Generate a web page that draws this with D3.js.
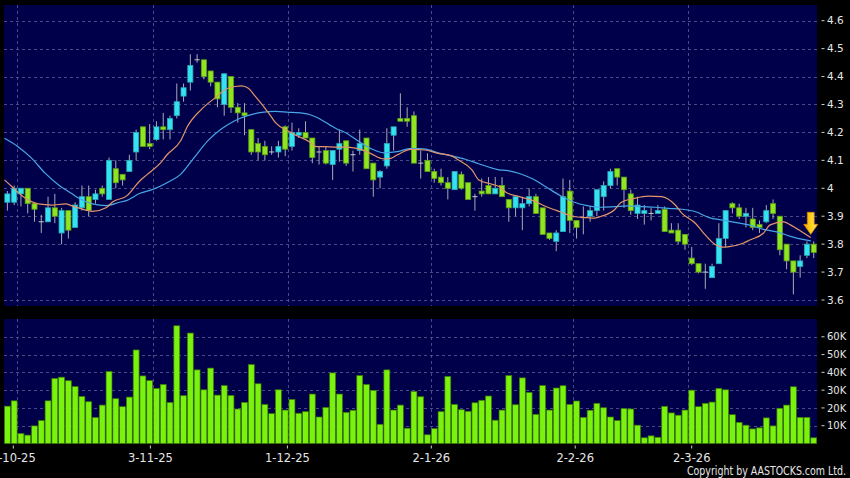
<!DOCTYPE html>
<html><head><meta charset="utf-8">
<script src="https://cdn.jsdelivr.net/npm/d3@7"></script>
<style>html,body{margin:0;padding:0;background:#000;}svg{display:block}</style>
</head><body><svg id="c" width="850" height="478"></svg>
<script>
// ---- data ----
const openP  = [3.95,3.95,3.98,4.00,3.945,3.88,3.88,3.93,3.84,3.92,3.86,3.93,3.97,3.96,4.00,3.96,4.07,4.05,4.06,4.13,
4.22,4.16,4.175,4.22,4.21,4.26,4.33,4.38,4.46,4.46,4.42,4.38,4.30,4.40,4.29,4.27,4.21,4.16,4.15,4.13,
4.13,4.22,4.15,4.19,4.20,4.18,4.13,4.135,4.085,4.14,4.17,4.12,4.135,4.18,4.09,4.04,4.08,4.19,4.25,4.25,
4.26,4.09,4.10,4.06,4.04,4.02,3.995,4.05,4.02,3.97,3.99,4.01,3.98,4.01,3.96,3.93,3.93,3.945,3.97,3.93,
3.84,3.81,3.845,3.99,3.885,3.895,3.90,3.92,3.97,4.01,4.07,4.04,3.98,3.91,3.91,3.91,3.91,3.925,3.85,3.85,
3.835,3.75,3.73,3.70,3.68,3.73,3.82,3.945,3.93,3.90,3.89,3.87,3.88,3.945,3.90,3.80,3.74,3.72,3.76,3.80];
const highP  = [3.99,4.01,4.00,4.00,3.95,3.905,3.97,3.98,3.93,3.92,3.95,4.01,4.01,3.995,4.01,4.11,4.10,4.05,4.12,4.21,
4.22,4.23,4.24,4.27,4.26,4.375,4.375,4.48,4.48,4.46,4.42,4.38,4.41,4.40,4.305,4.305,4.21,4.18,4.17,4.15,
4.17,4.225,4.235,4.215,4.24,4.18,4.15,4.15,4.135,4.21,4.17,4.135,4.21,4.18,4.09,4.065,4.215,4.22,4.34,4.29,
4.275,4.135,4.125,4.07,4.07,4.04,4.06,4.06,4.02,3.98,4.035,4.04,4.04,4.04,3.96,3.97,3.97,4.00,3.98,3.93,
3.84,3.85,4.035,4.03,3.885,3.935,3.935,3.995,4.025,4.07,4.07,4.04,3.995,3.97,3.94,3.93,3.94,3.935,3.875,3.875,
3.835,3.79,3.73,3.73,3.73,3.875,3.92,3.95,3.945,3.93,3.93,3.885,3.94,3.96,3.90,3.80,3.74,3.76,3.81,3.81];
const lowP   = [3.92,3.94,3.935,3.91,3.88,3.84,3.88,3.875,3.80,3.82,3.86,3.92,3.90,3.945,3.97,3.96,4.00,4.01,4.06,4.10,
4.15,4.14,4.17,4.175,4.175,4.25,4.31,4.35,4.45,4.39,4.365,4.29,4.26,4.27,4.235,4.19,4.12,4.10,4.10,4.12,
4.11,4.115,4.135,4.18,4.18,4.09,4.085,4.085,4.03,4.095,4.08,4.06,4.12,4.07,3.97,4.00,4.07,4.135,4.24,4.22,
4.09,4.035,4.06,4.02,4.01,3.96,3.995,3.995,3.96,3.92,3.97,3.98,3.98,3.97,3.88,3.90,3.85,3.935,3.91,3.835,
3.815,3.775,3.845,3.84,3.82,3.835,3.88,3.90,3.92,4.00,4.01,3.93,3.905,3.89,3.87,3.885,3.91,3.845,3.84,3.80,
3.78,3.725,3.695,3.64,3.68,3.73,3.79,3.91,3.89,3.86,3.85,3.84,3.875,3.89,3.76,3.71,3.62,3.68,3.75,3.75];
const closeP = [3.98,4.00,4.00,3.945,3.925,3.88,3.93,3.90,3.92,3.85,3.94,3.97,3.92,3.98,3.98,4.10,4.02,4.03,4.10,4.20,
4.15,4.15,4.22,4.21,4.25,4.31,4.36,4.44,4.46,4.40,4.38,4.32,4.41,4.29,4.27,4.26,4.13,4.13,4.12,4.13,
4.15,4.14,4.20,4.20,4.18,4.11,4.13,4.09,4.135,4.16,4.09,4.12,4.16,4.07,4.03,4.06,4.16,4.22,4.24,4.24,
4.09,4.09,4.06,4.035,4.02,4.00,4.06,4.00,3.96,3.97,3.98,3.98,4.00,3.97,3.93,3.97,3.945,3.97,3.91,3.835,
3.82,3.84,3.97,3.885,3.86,3.895,3.92,3.995,4.01,4.06,4.04,3.995,3.92,3.94,3.92,3.91,3.92,3.845,3.84,3.81,
3.80,3.73,3.70,3.70,3.72,3.82,3.92,3.93,3.90,3.91,3.86,3.86,3.92,3.91,3.78,3.74,3.70,3.74,3.80,3.77];
// volume in thousands
const volume = [21,24,5.6,4.7,9.9,12.9,24,36.6,37.3,35.3,32,26.5,23.5,14.6,21.6,40.5,25.2,20.7,26.1,52.6,
38,35.4,31,33.2,23.1,66.2,26.9,62.1,41.4,30.2,42.4,27.2,32.6,27,19.4,23.1,44.4,33.6,22,16.8,
30.2,18.8,24.8,17,17.9,27.8,14.9,20.3,39.7,27.8,17.5,18.7,38.2,33.2,29.9,10.8,41.4,18.8,21.6,8.6,
29.3,26.3,4.9,8.4,17.9,37.7,22,19,18.1,22.9,24.3,26.7,13.1,18.8,38.2,21.8,36.9,28.7,16.4,32.6,
18.8,31.2,32.5,22,23.9,14.7,18.7,22.6,20.1,14.9,12.9,19.6,19.4,10.3,3.2,4.3,3.5,20.9,17.2,15.9,
18.8,30,20.7,22.6,23.3,31,30.2,16.2,11.9,10.3,8.2,8.8,14.4,9.9,19.8,21.6,31.9,14.7,14.7,3.2];
// moving averages: [bar index, value]
const maShort = [[0,4.03],[1,4.008],[3,3.966],[5,3.944],[7,3.94],[9,3.944],[10,3.937],[12,3.922],[13,3.917],[15,3.93],[16,3.952],[18,3.972],[20,4.027],[21,4.048],[23,4.09],[24,4.12],[26,4.17],[27,4.221],[29,4.281],[31,4.322],[33,4.358],[35,4.367],[36,4.358],[37,4.33],[39,4.269],[40,4.235],[42,4.203],[43,4.19],[45,4.167],[46,4.149],[47,4.149],[49,4.147],[50,4.147],[52,4.143],[54,4.125],[56,4.105],[57,4.107],[58,4.12],[60,4.139],[62,4.137],[64,4.125],[66,4.116],[67,4.101],[69,4.066],[70,4.03],[72,4.014],[73,4.006],[74,3.986],[76,3.97],[78,3.956],[80,3.934],[82,3.916],[84,3.899],[86,3.895],[87,3.893],[88,3.899],[90,3.922],[91,3.949],[93,3.964],[95,3.972],[97,3.97],[99,3.94],[100,3.91],[102,3.874],[103,3.845],[105,3.797],[106,3.789],[107,3.791],[109,3.803],[110,3.815],[112,3.839],[113,3.869],[115,3.88],[116,3.869],[118,3.839],[119,3.824]];
const maLong = [[0,4.179],[2,4.149],[4,4.108],[6,4.054],[8,4.012],[10,3.98],[11,3.964],[13,3.944],[15,3.938],[17,3.95],[18,3.956],[20,3.982],[22,3.997],[24,4.02],[26,4.05],[28,4.11],[30,4.17],[32,4.212],[34,4.242],[36,4.261],[38,4.272],[40,4.275],[42,4.272],[43,4.271],[45,4.264],[47,4.242],[48,4.227],[49,4.213],[50,4.203],[52,4.173],[54,4.143],[56,4.127],[58,4.131],[60,4.143],[62,4.141],[64,4.127],[66,4.116],[68,4.104],[70,4.088],[72,4.072],[73,4.066],[74,4.064],[76,4.053],[78,4.033],[80,4.004],[82,3.974],[84,3.951],[86,3.938],[88,3.932],[90,3.934],[92,3.937],[94,3.934],[96,3.932],[98,3.928],[100,3.925],[102,3.916],[104,3.895],[106,3.886],[108,3.877],[110,3.868],[112,3.853],[114,3.844],[116,3.828],[118,3.816],[119,3.812]];
const monthIdx = [1,21,41,62,83,100];
const monthLabels = ["2-10-25","3-11-25","1-12-25","2-1-26","2-2-26","2-3-26"];
const priceTicks = [3.6,3.7,3.8,3.9,4.0,4.1,4.2,4.3,4.4,4.5,4.6];
const priceTickLabels = ["3.6","3.7","3.8","3.9","4","4.1","4.2","4.3","4.4","4.5","4.6"];
const volTicks = [10,20,30,40,50,60];
const volTickLabels = ["10K","20K","30K","40K","50K","60K"];
const marker = {index:119, price:3.835};

// ---- drawing ----
const svg = d3.select("#c");
const n = closeP.length;
const L = 4, R = 817.1;
const pTop = 5, pBot = 306, vTop = 319, vBot = 443.5;
const bg = "#00004a", grid = "#5c5c94";

svg.append("rect").attr("width",850).attr("height",478).attr("fill","#000");

const x = d3.scaleBand().domain(d3.range(n)).range([L,R]).paddingInner(0.13).paddingOuter(0.065);
const xt = d3.scaleLinear().domain([0,n-1]).range([6.45,821.9]);
const y = d3.scaleLinear().domain([3.6,4.6]).range([300,20.7]);
const yv = d3.scaleLinear().domain([0,60]).range([vBot,336.8]);

svg.append("rect").attr("x",L).attr("y",pTop).attr("width",R-L).attr("height",pBot-pTop).attr("fill",bg);
svg.append("rect").attr("x",L).attr("y",vTop).attr("width",R-L).attr("height",vBot-vTop).attr("fill",bg);

// grids
const gridG = svg.append("g").attr("stroke",grid).attr("stroke-width",0.8).attr("stroke-dasharray","3,3");
gridG.selectAll(".hp").data(priceTicks).join("line")
  .attr("x1",L).attr("x2",R).attr("y1",d=>Math.round(y(d))+0.5).attr("y2",d=>Math.round(y(d))+0.5);
gridG.selectAll(".hv").data(volTicks).join("line").attr("class","hv")
  .attr("x1",L).attr("x2",R).attr("y1",d=>Math.round(yv(d))+0.5).attr("y2",d=>Math.round(yv(d))+0.5);
monthIdx.forEach(i=>{
  const gx = Math.round(x(i+1)-0.6)+0.5;
  gridG.append("line").attr("x1",gx).attr("x2",gx).attr("y1",pTop).attr("y2",pBot);
  gridG.append("line").attr("x1",gx).attr("x2",gx).attr("y1",vTop).attr("y2",vBot);
});

// volume bars
svg.append("g").selectAll("rect").data(volume).join("rect")
  .attr("x",(d,i)=>x(i)).attr("width",x.bandwidth())
  .attr("y",d=>yv(d)).attr("height",d=>vBot-yv(d))
  .attr("fill","#7af20e").attr("stroke","#3b7a06").attr("stroke-width",0.7);

// candles
const cg = svg.append("g");
const bw = x.bandwidth()-0.8;
d3.range(n).forEach(i=>{
  const o=openP[i], c=closeP[i], h=highP[i], l=lowP[i];
  const cx = x(i)+x.bandwidth()/2;
  const doji = Math.abs(o-c) < 0.001;
  cg.append("line").attr("x1",cx).attr("x2",cx).attr("y1",y(h)).attr("y2",y(l))
    .attr("stroke","#a9a9b4").attr("stroke-width",1);
  if (doji) {
    cg.append("line").attr("x1",cx-bw/2).attr("x2",cx+bw/2).attr("y1",y(o)).attr("y2",y(o))
      .attr("stroke","#c8c8d0").attr("stroke-width",1);
  } else {
    const up = c>o;
    const top = y(Math.max(o,c)), bot = y(Math.min(o,c));
    cg.append("rect").attr("x",cx-bw/2).attr("width",bw).attr("y",top).attr("height",Math.max(1.5,bot-top))
      .attr("fill",up?"#35e3f0":"#8fe620").attr("stroke",up?"#2aa9b6":"#5f9e16").attr("stroke-width",0.8);
  }
});

// moving averages
const line = d3.line().x(d=>x(d[0])).y(d=>y(d[1])).curve(d3.curveMonotoneX);
svg.append("path").datum(maLong).attr("d",line).attr("fill","none").attr("stroke","#46a6e6").attr("stroke-width",1.2);
svg.append("path").datum(maShort).attr("d",line).attr("fill","none").attr("stroke","#e3946a").attr("stroke-width",1.2);

// marker arrow
const defs = svg.append("defs");
const gr = defs.append("linearGradient").attr("id","ag").attr("x1","0").attr("x2","1").attr("y1","0").attr("y2","0");
gr.append("stop").attr("offset","0").attr("stop-color","#ff9d00");
gr.append("stop").attr("offset","0.5").attr("stop-color","#ffd21a");
gr.append("stop").attr("offset","1").attr("stop-color","#ffe870");
const ax = x(marker.index), ay = y(marker.price);
const arrow = [[ax-3.4,ay-22],[ax+3.4,ay-22],[ax+3.4,ay-10],[ax+7,ay-10],[ax,ay],[ax-7,ay-10],[ax-3.4,ay-10]];
svg.append("path").attr("d",d3.line()(arrow)+"Z").attr("fill","url(#ag)").attr("stroke","#e08a00").attr("stroke-width",0.8);

// right axes
const ag = svg.append("g").attr("font-family","DejaVu Sans, Verdana, sans-serif").attr("fill","#e6e6e6");
priceTicks.forEach((t,k)=>{
  ag.append("line").attr("x1",821.5).attr("x2",824.5).attr("y1",y(t)).attr("y2",y(t)).attr("stroke","#d0d0d0");
  ag.append("text").attr("x",827).attr("y",y(t)).attr("dy","0.36em").attr("font-size",10.5).text(priceTickLabels[k]);
});
volTicks.forEach((t,k)=>{
  ag.append("line").attr("x1",821.5).attr("x2",824.5).attr("y1",yv(t)).attr("y2",yv(t)).attr("stroke","#d0d0d0");
  ag.append("text").attr("x",827).attr("y",yv(t)).attr("dy","0.36em").attr("font-size",10).text(volTickLabels[k]);
});
// bottom axis
monthIdx.forEach((i,k)=>{
  const tx = xt(i);
  ag.append("line").attr("x1",tx).attr("x2",tx).attr("y1",445.5).attr("y2",448.5).attr("stroke","#d0d0d0");
  ag.append("text").attr("x",tx).attr("y",462).attr("text-anchor","middle").attr("font-size",11.5).text(monthLabels[k]);
});
ag.append("text").attr("x",846).attr("y",474.5).attr("text-anchor","end").attr("font-size",11.5)
  .attr("textLength",159).attr("lengthAdjust","spacingAndGlyphs").text("Copyright by AASTOCKS.com Ltd.");
</script></body></html>
